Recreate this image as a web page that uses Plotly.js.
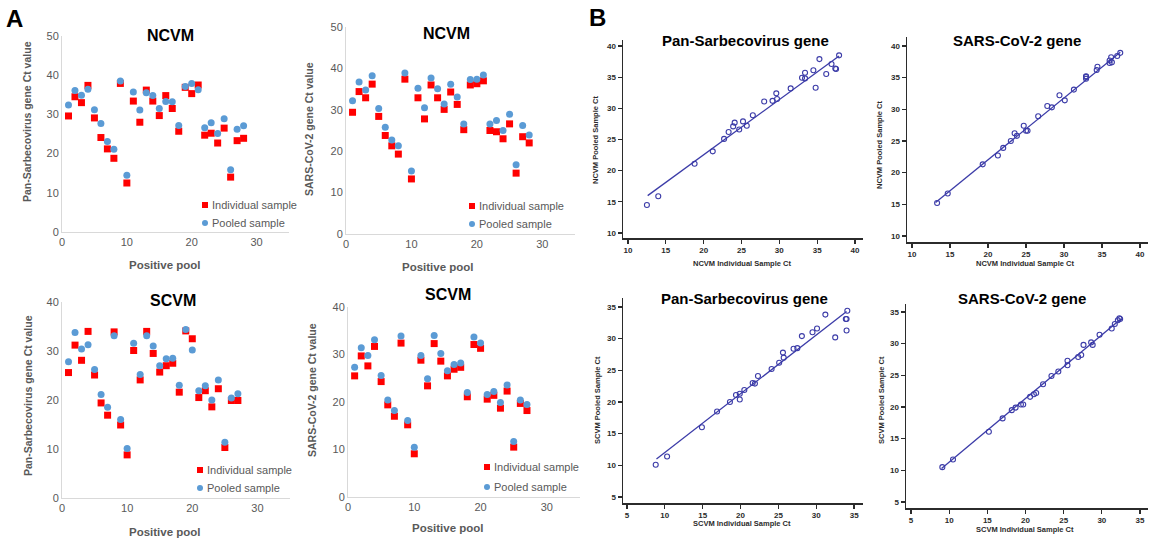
<!DOCTYPE html>
<html>
<head>
<meta charset="utf-8">
<script src="https://cdn.plot.ly/plotly-3.0.1.min.js"></script>
<style>
html,body{margin:0;padding:0;background:#fff;}
#chart{width:1157px;height:538px;}
</style>
</head>
<body>
<div id="chart"></div>
<script>
// ---------- DATA ----------
const pools28 = [1,2,3,4,5,6,7,8,9,10,11,12,13,14,15,16,17,18,19,20,21,22,23,24,25,26,27,28];
const pools27 = [1,2,3,4,5,6,7,8,9,10,11,12,13,14,15,16,17,18,19,20,21,22,23,24,25,26,27];

// NCVM, Pan-Sarbecovirus gene
const ncvmPanInd  = [29.6,34.5,33.0,37.4,29.1,24.1,21.2,18.8,37.9,12.5,33.4,28.0,36.2,33.4,29.7,34.8,31.5,25.7,36.9,35.3,37.5,24.7,25.2,22.7,26.5,14.0,23.3,23.9];
const ncvmPanPool = [32.4,36.1,34.9,36.4,31.2,27.7,23.1,21.1,38.5,14.5,35.7,31.1,35.5,34.8,31.5,33.3,33.2,27.2,37.1,37.9,36.3,26.6,27.9,25.1,28.9,15.9,26.2,27.1];
// NCVM, SARS-CoV-2 gene
const ncvmSarsInd  = [29.4,34.4,32.9,36.2,28.4,23.8,21.3,19.3,37.4,13.3,32.9,27.8,36.0,32.9,30.1,34.3,31.3,25.2,36.0,36.3,37.0,25.0,24.7,23.0,26.6,14.7,23.5,22.0];
const ncvmSarsPool = [32.2,36.7,34.8,38.2,30.3,25.8,22.7,21.3,38.9,15.2,35.2,30.5,37.7,35.1,31.4,36.2,33.1,26.6,37.3,37.4,38.4,26.6,27.4,25.0,28.9,16.7,26.2,23.9];
// SCVM, Pan-Sarbecovirus gene
const scvmPanInd  = [25.6,31.2,28.1,34.0,25.1,19.4,16.9,33.9,14.9,8.8,30.1,24.1,34.0,29.5,25.7,27.0,27.5,21.6,34.1,32.5,20.5,21.9,18.6,22.3,10.3,19.9,19.9];
const scvmPanPool = [27.8,33.8,30.4,31.3,26.2,21.1,18.5,33.1,16.0,10.1,31.6,25.2,33.1,31.0,27.0,28.4,28.5,23.0,34.4,30.2,21.9,22.9,20.0,24.1,11.4,20.4,21.3];
// SCVM, SARS-CoV-2 gene
const scvmSarsInd  = [25.5,29.7,27.6,31.7,24.3,19.4,17.0,32.4,15.2,9.1,28.8,23.4,32.3,28.6,25.5,26.9,27.3,21.1,32.1,31.3,20.6,21.4,18.7,22.3,10.5,19.7,18.2];
const scvmSarsPool = [27.3,31.4,29.8,33.1,25.6,20.4,18.2,33.9,16.1,10.5,29.8,24.9,34.0,30.2,26.6,27.9,28.2,22.0,33.7,32.4,21.6,22.2,19.9,23.6,11.7,20.4,19.5];

// Regression line end points
const fitNcvmPanX  = [12.6, 37.9], fitNcvmPanY  = [16.0, 38.4];
const fitNcvmSarsX = [13.1, 37.4], fitNcvmSarsY = [15.3, 39.0];
const fitScvmPanX  = [8.9, 34.0],  fitScvmPanY  = [11.0, 34.3];
const fitScvmSarsX = [9.0, 32.5],  fitScvmSarsY = [10.3, 33.9];

// ---------- HELPERS ----------
const W = 1157, H = 538;
const px = v => v / W;
const py = v => 1 - v / H;
const FONT = 'Liberation Sans, Arial, sans-serif';
const RED = '#ff0000', BLUE = '#5b9bd5', NAVY = '#3c3ca8', GREY = '#595959';

const traces = [];
function aPanel(n, pools, ind, pool) {
  const xa = n === 1 ? 'x' : 'x' + n, ya = n === 1 ? 'y' : 'y' + n;
  traces.push({x: pools, y: ind, xaxis: xa, yaxis: ya, type: 'scatter', mode: 'markers', name: 'Individual sample',
    marker: {symbol: 'square', size: 7, color: RED}, showlegend: false, hoverinfo: 'x+y'});
  traces.push({x: pools, y: pool, xaxis: xa, yaxis: ya, type: 'scatter', mode: 'markers', name: 'Pooled sample',
    marker: {symbol: 'circle', size: 7, color: BLUE}, showlegend: false, hoverinfo: 'x+y'});
}
function bPanel(n, ind, pool, fx, fy) {
  const xa = 'x' + n, ya = 'y' + n;
  traces.push({x: fx, y: fy, xaxis: xa, yaxis: ya, type: 'scatter', mode: 'lines',
    line: {color: NAVY, width: 1.3}, showlegend: false, hoverinfo: 'skip'});
  traces.push({x: ind, y: pool, xaxis: xa, yaxis: ya, type: 'scatter', mode: 'markers',
    marker: {symbol: 'circle-open', size: 5, color: NAVY, line: {width: 1.1, color: NAVY}}, showlegend: false});
}
aPanel(1, pools28, ncvmPanInd, ncvmPanPool);
aPanel(2, pools28, ncvmSarsInd, ncvmSarsPool);
aPanel(3, pools27, scvmPanInd, scvmPanPool);
aPanel(4, pools27, scvmSarsInd, scvmSarsPool);
bPanel(5, ncvmPanInd, ncvmPanPool, fitNcvmPanX, fitNcvmPanY);
bPanel(6, ncvmSarsInd, ncvmSarsPool, fitNcvmSarsX, fitNcvmSarsY);
bPanel(7, scvmPanInd, scvmPanPool, fitScvmPanX, fitScvmPanY);
bPanel(8, scvmSarsInd, scvmSarsPool, fitScvmSarsX, fitScvmSarsY);

function aX(x0, x1) {
  return {domain: [px(x0), px(x1)], range: [0, 35], tickvals: [0, 10, 20, 30], showline: true,
    linecolor: '#d9d9d9', linewidth: 1, showgrid: false, zeroline: false, ticks: '',
    tickfont: {size: 11, color: GREY, family: FONT}, fixedrange: true};
}
function aY(yb, yt, max) {
  return {domain: [py(yb), py(yt)], range: [0, max], dtick: 10, showline: true,
    linecolor: '#d9d9d9', linewidth: 1, showgrid: false, zeroline: false, ticks: '',
    tickfont: {size: 11, color: GREY, family: FONT}, fixedrange: true};
}
function bAx(d0, d1, r, tv, isY) {
  return {domain: isY ? [py(d0), py(d1)] : [px(d0), px(d1)], range: r, tickvals: tv, showline: true,
    linecolor: '#2b2b2b', linewidth: 1.5, showgrid: false, zeroline: false, ticks: 'outside',
    ticklen: 4, tickwidth: 1.3, tickcolor: '#2b2b2b',
    tickfont: {size: 8, color: '#2b2b2b', family: FONT, weight: 'bold'}, fixedrange: true};
}

const layout = {
  width: W, height: H, margin: {l: 0, r: 0, t: 0, b: 0},
  paper_bgcolor: '#fff', plot_bgcolor: 'rgba(0,0,0,0)', showlegend: false,
  font: {family: FONT},
  xaxis: Object.assign(aX(62, 289), {anchor: 'y'}),
  yaxis: Object.assign(aY(232, 36, 50), {anchor: 'x'}),
  xaxis2: Object.assign(aX(346, 575), {anchor: 'y2'}),
  yaxis2: Object.assign(aY(234, 27, 50), {anchor: 'x2'}),
  xaxis3: Object.assign(aX(62, 290), {anchor: 'y3'}),
  yaxis3: Object.assign(aY(498, 302, 40), {anchor: 'x3'}),
  xaxis4: Object.assign(aX(348, 580), {anchor: 'y4'}),
  yaxis4: Object.assign(aY(497, 307, 40), {anchor: 'x4'}),
  xaxis5: Object.assign(bAx(623, 863, [9.34, 41.06], [10,15,20,25,30,35,40], false), {anchor: 'y5'}),
  yaxis5: Object.assign(bAx(238, 40, [9.2, 40.96], [10,15,20,25,30,35,40], true), {anchor: 'x5'}),
  xaxis6: Object.assign(bAx(907, 1148, [9.34, 41.05], [10,15,20,25,30,35,40], false), {anchor: 'y6'}),
  yaxis6: Object.assign(bAx(242, 37, [9.05, 41.4], [10,15,20,25,30,35,40], true), {anchor: 'x6'}),
  xaxis7: Object.assign(bAx(623, 863, [4.48, 36.17], [5,10,15,20,25,30,35], false), {anchor: 'y7'}),
  yaxis7: Object.assign(bAx(503, 298, [4.05, 36.42], [5,10,15,20,25,30,35], true), {anchor: 'x7'}),
  xaxis8: Object.assign(bAx(906, 1148, [4.34, 36.05], [5,10,15,20,25,30,35], false), {anchor: 'y8'}),
  yaxis8: Object.assign(bAx(508, 304, [4.05, 36.26], [5,10,15,20,25,30,35], true), {anchor: 'x8'}),
  annotations: [],
  shapes: []
};

function ann(text, x, y, size, opts) {
  layout.annotations.push(Object.assign({text: text, xref: 'paper', yref: 'paper', x: px(x), y: py(y),
    xanchor: 'center', yanchor: 'middle', showarrow: false,
    font: {size: size, family: FONT, color: '#000'}}, opts || {}));
}
// Panel letters
ann('<b>A</b>', 14, 18, 24);
ann('<b>B</b>', 597, 17, 24);
// A titles
ann('<b>NCVM</b>', 170, 35, 16);
ann('<b>NCVM</b>', 446, 33, 16);
ann('<b>SCVM</b>', 173, 300, 16);
ann('<b>SCVM</b>', 448, 294, 16);
// A axis titles
const aTitleFont = c => ({font: {size: 11, family: FONT, color: GREY}});
ann('<b>Pan-Sarbecovirus gene Ct value</b>', 27, 122, 10.5, {textangle: -90, font: {size: 10.5, family: FONT, color: GREY}});
ann('<b>SARS-CoV-2 gene Ct value</b>', 309, 129, 10.5, {textangle: -90, font: {size: 10.5, family: FONT, color: GREY}});
ann('<b>Pan-Sarbecovirus gene Ct value</b>', 28, 396, 10.5, {textangle: -90, font: {size: 10.5, family: FONT, color: GREY}});
ann('<b>SARS-CoV-2 gene Ct value</b>', 312, 390, 10.5, {textangle: -90, font: {size: 10.5, family: FONT, color: GREY}});
ann('<b>Positive pool</b>', 165, 265, 11.5, {font: {size: 11.5, family: FONT, color: GREY}});
ann('<b>Positive pool</b>', 438, 267, 11.5, {font: {size: 11.5, family: FONT, color: GREY}});
ann('<b>Positive pool</b>', 165, 532, 11.5, {font: {size: 11.5, family: FONT, color: GREY}});
ann('<b>Positive pool</b>', 448, 528, 11.5, {font: {size: 11.5, family: FONT, color: GREY}});
// B titles
ann('<b>Pan-Sarbecovirus gene</b>', 745, 41, 15);
ann('<b>SARS-CoV-2 gene</b>', 1017, 41, 15);
ann('<b>Pan-Sarbecovirus gene</b>', 744, 298, 15);
ann('<b>SARS-CoV-2 gene</b>', 1022, 298, 15);
// B axis titles
const bT = {font: {size: 7.5, family: FONT, color: '#2b2b2b'}};
ann('<b>NCVM Individual Sample Ct</b>', 742, 263, 7.5, bT);
ann('<b>NCVM Individual Sample Ct</b>', 1025, 263, 7.5, bT);
ann('<b>SCVM Individual Sample Ct</b>', 742, 523, 7.5, bT);
ann('<b>SCVM Individual Sample Ct</b>', 1025, 529, 7.5, bT);
ann('<b>NCVM Pooled Sample Ct</b>', 596, 140, 7.5, Object.assign({textangle: -90}, bT));
ann('<b>NCVM Pooled Sample Ct</b>', 880, 145, 7.5, Object.assign({textangle: -90}, bT));
ann('<b>SCVM Pooled Sample Ct</b>', 597, 400, 7.5, Object.assign({textangle: -90}, bT));
ann('<b>SCVM Pooled Sample Ct</b>', 881, 400, 7.5, Object.assign({textangle: -90}, bT));

// Manual legends for A panels
function legend(mx, y1, y2) {
  const s = 3;
  layout.shapes.push({type: 'rect', xref: 'paper', yref: 'paper', x0: px(mx - s), x1: px(mx + s), y0: py(y1 + s), y1: py(y1 - s),
    fillcolor: RED, line: {width: 0}});
  layout.shapes.push({type: 'circle', xref: 'paper', yref: 'paper', x0: px(mx - s), x1: px(mx + s), y0: py(y2 + s), y1: py(y2 - s),
    fillcolor: BLUE, line: {width: 0}});
  const f = {font: {size: 11, family: FONT, color: GREY}, xanchor: 'left'};
  ann('Individual sample', mx + 5, y1, 11, f);
  ann('Pooled sample', mx + 5, y2, 11, f);
}
legend(205, 205, 223);
legend(472, 206, 224);
legend(200, 470, 488);
legend(487, 467, 487);

Plotly.newPlot('chart', traces, layout, {displayModeBar: false, staticPlot: true});
</script>
</body>
</html>
